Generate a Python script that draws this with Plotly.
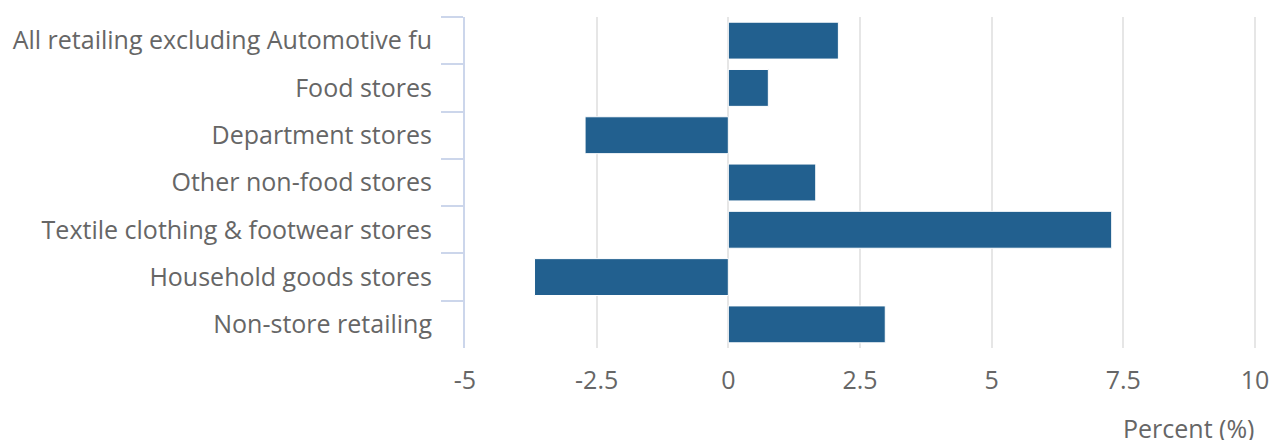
import plotly.graph_objects as go

categories = [
    "All retailing excluding Automotive fu",
    "Food stores",
    "Department stores",
    "Other non-food stores",
    "Textile clothing & footwear stores",
    "Household goods stores",
    "Non-store retailing",
]
values = [2.09, 0.76, -2.72, 1.66, 7.28, -3.68, 2.98]
x_ticks = [-5, -2.5, 0, 2.5, 5, 7.5, 10]
x_tick_labels = ["-5", "-2.5", "0", "2.5", "5", "7.5", "10"]

FONT = "Open Sans"
GRAY = "#666666"
FS = 25

fig = go.Figure(
    go.Bar(
        y=categories,
        x=values,
        orientation="h",
        marker=dict(color="#22608f", line=dict(color="#ffffff", width=1)),
        hoverinfo="skip",
    )
)

fig.update_layout(
    width=1269,
    height=440,
    margin=dict(l=465, r=13, t=17, b=92, autoexpand=False),
    plot_bgcolor="white",
    paper_bgcolor="white",
    bargap=0.22,
    showlegend=False,
    font=dict(family=FONT, color=GRAY, size=FS),
)

fig.update_xaxes(
    range=[-5, 10.02],
    tickvals=x_ticks,
    ticktext=x_tick_labels,
    showgrid=True,
    gridcolor="#e6e6e6",
    gridwidth=1.5,
    zeroline=False,
    showline=False,
    ticks="",
    ticklabelstandoff=15,
    ticklabeloverflow="allow",
    automargin=False,
    tickfont=dict(family=FONT, color=GRAY, size=FS),
)

fig.update_yaxes(
    autorange="reversed",
    showgrid=False,
    zeroline=False,
    showline=True,
    linecolor="#ccd6eb",
    linewidth=2,
    ticks="outside",
    tickson="boundaries",
    ticklen=22,
    tickwidth=2,
    tickcolor="#ccd6eb",
    ticklabelstandoff=26,
    automargin=False,
    tickfont=dict(family=FONT, color=GRAY, size=FS),
)

fig.add_annotation(
    text="Percent (%)",
    xref="paper",
    yref="paper",
    x=1,
    y=-80 / 331,
    xanchor="right",
    yanchor="middle",
    showarrow=False,
    font=dict(family=FONT, color=GRAY, size=FS),
)

fig.write_html(
    "out.html",
    config={"displayModeBar": False},
    post_script="document.body.style.margin='0';document.body.style.overflow='hidden';",
)
